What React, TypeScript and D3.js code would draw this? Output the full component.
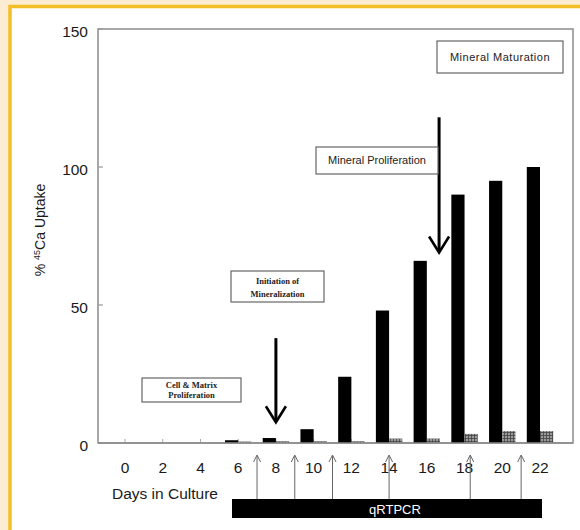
import React from 'react';
import * as d3 from 'd3';

// days in culture
const days = [0, 2, 4, 6, 8, 10, 12, 14, 16, 18, 20, 22];
// % 45Ca uptake, mineralizing cultures (black bars)
const uptake = [0, 0, 0, 1, 1.8, 5, 24, 48, 66, 90, 95, 100];
// control cultures (hatched bars)
const control = [0, 0, 0, 0.5, 0.6, 0.6, 0.6, 1.6, 1.6, 3.3, 4.3, 4.3];
// qRTPCR sampling days (thin arrows)
const sampleDays = [7, 9, 11, 14, 18.3, 21];
const yTicks = [0, 50, 100, 150];

const W = 580;
const H = 530;

const App = () => {
  const x = d3.scaleLinear().domain([0, 22]).range([125, 540]);
  const y = d3.scaleLinear().domain([0, 150]).range([443, 29]);
  const bw = x(0.7) - x(0);
  const left = 98;
  const right = 573;

  const bigArrow = (day: number, from: number, to: number) => {
    const cx = x(day);
    const y0 = y(from);
    const y1 = y(to);
    return (
      <g stroke="#000" strokeWidth={3} fill="none">
        <line x1={cx} y1={y0} x2={cx} y2={y1 - 1} />
        <path d={`M${cx - 10},${y1 - 16} L${cx},${y1} L${cx + 10},${y1 - 16}`} strokeWidth={2.6} />
      </g>
    );
  };

  const sans = 'Liberation Sans, Arial, sans-serif';
  const serif = 'Liberation Serif, Times New Roman, serif';

  return (
    <svg width={W} height={H} style={{ position: 'absolute', left: 0, top: 0 }}>
      <defs>
        <pattern id="hatch" width={3} height={3} patternUnits="userSpaceOnUse">
          <rect width={3} height={3} fill="#9a9a9a" />
          <path d="M0,0.5 H3 M0.5,0 V3" stroke="#444" strokeWidth={0.8} />
        </pattern>
      </defs>
      <rect width={W} height={H} fill="#fcecd2" />
      <rect x={10} y={6.5} width={W} height={H} fill="#fff" stroke="#f3bf26" strokeWidth={3.5} />

      {/* plot frame */}
      <rect x={left} y={y(150)} width={right - left} height={y(0) - y(150)} fill="none" stroke="#8c8c8c" strokeWidth={1.5} />

      {/* y ticks */}
      {yTicks.map(t => (
        <g key={t}>
          <line x1={left} x2={left + 5} y1={y(t)} y2={y(t)} stroke="#999" strokeWidth={1.2} />
          <text x={88} y={y(t) + 8} textAnchor="end" fontFamily={sans} fontSize={15.5} fill="#1a1a1a">{t}</text>
        </g>
      ))}

      {/* x ticks */}
      {days.map(d => (
        <g key={d}>
          <line x1={x(d)} x2={x(d)} y1={y(0)} y2={y(0) - 4} stroke="#aaa" strokeWidth={1} />
          <text x={x(d)} y={473} textAnchor="middle" fontFamily={sans} fontSize={15.5} fill="#1a1a1a">{d}</text>
        </g>
      ))}

      {/* bars */}
      {days.map((d, i) => (
        <g key={'b' + d}>
          {uptake[i] > 0 && (
            <rect x={x(d) - bw} y={y(uptake[i])} width={bw} height={y(0) - y(uptake[i])} fill="#000" />
          )}
          {control[i] > 0 && (
            <rect x={x(d)} y={y(control[i])} width={bw} height={y(0) - y(control[i])} fill="url(#hatch)" />
          )}
        </g>
      ))}

      <line x1={left} x2={right} y1={y(0)} y2={y(0)} stroke="#8c8c8c" strokeWidth={1.5} />

      {/* axis titles */}
      <text transform="translate(45,230) rotate(-90)" textAnchor="middle" fontFamily={sans} fontSize={14} fill="#1a1a1a">
        % <tspan fontSize={9} dy={-5}>45</tspan><tspan dy={5}>Ca Uptake</tspan>
      </text>
      <text x={112} y={499} fontFamily={sans} fontSize={15.5} fill="#1a1a1a">Days in Culture</text>

      {/* qRTPCR bar */}
      <rect x={232} y={499} width={310} height={19} fill="#000" />
      <text x={395} y={514} textAnchor="middle" fontFamily={sans} fontSize={13} fill="#fff">qRTPCR</text>

      {/* sampling arrows */}
      {sampleDays.map(d => (
        <g key={'s' + d} stroke="#666" strokeWidth={1} fill="none">
          <line x1={x(d)} x2={x(d)} y1={499} y2={456} />
          <path d={`M${x(d) - 3.5},${462} L${x(d)},${455} L${x(d) + 3.5},${462}`} />
        </g>
      ))}

      {/* annotation arrows */}
      {bigArrow(8, 38, 7.5)}
      {bigArrow(16.65, 118, 69)}

      {/* annotation boxes */}
      <g fill="#fff" stroke="#666" strokeWidth={1.2}>
        <rect x={142} y={378} width={99} height={24} />
        <rect x={231} y={271} width={93} height={31} />
        <rect x={316} y={147} width={122} height={27} />
        <rect x={437} y={41} width={126} height={32} />
      </g>
      <g fontFamily={serif} fontSize={8.5} fill="#222" textAnchor="middle" fontWeight="bold">
        <text x={191.5} y={388}>Cell &amp; Matrix</text>
        <text x={191.5} y={398}>Proliferation</text>
        <text x={277.5} y={284}>Initiation of</text>
        <text x={277.5} y={297}>Mineralization</text>
      </g>
      <g fontFamily={sans} fontSize={11} fill="#222" textAnchor="middle">
        <text x={377} y={164}>Mineral Proliferation</text>
        <text x={500} y={61} letterSpacing={0.5}>Mineral Maturation</text>
      </g>
    </svg>
  );
};

export default App;
